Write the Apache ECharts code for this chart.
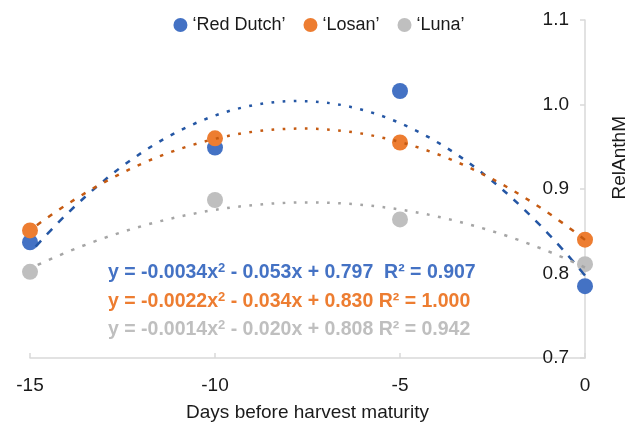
<!DOCTYPE html>
<html>
<head>
<meta charset="utf-8">
<script src="https://cdn.jsdelivr.net/npm/echarts/dist/echarts.min.js"></script>
<style>
html,body{margin:0;padding:0;background:#fff;}
#chart{width:638px;height:423px;}
</style>
</head>
<body>
<div id="chart"></div>
<script>
// ---- data ----
var days = [-15, -10, -5, 0];
var xTickLabels = ['-15', '-10', '-5', '0'];
var yTickLabels = ['0.7', '0.8', '0.9', '1.0', '1.1'];
var seriesNames = ['\u2018Red Dutch\u2019', '\u2018Losan\u2019', '\u2018Luna\u2019'];
var redDutch = [0.837, 0.949, 1.016, 0.785];
var losan    = [0.851, 0.960, 0.955, 0.840];
var luna     = [0.802, 0.887, 0.864, 0.811];
// equation labels shown on the chart: [before superscript, after superscript]
var eqRedDutch = ['y = -0.0034x', ' - 0.053x + 0.797  R\u00b2 = 0.907'];
var eqLosan    = ['y = -0.0022x', ' - 0.034x + 0.830 R\u00b2 = 1.000'];
var eqLuna     = ['y = -0.0014x', ' - 0.020x + 0.808 R\u00b2 = 0.942'];

// ---- styling ----
var markerColors = ['#4472C4', '#ED7D31', '#BFBFBF'];
var trendColors = ['#2456A4', '#C55A11', '#A5A5A5'];
var FONT = '"Liberation Sans", Arial, sans-serif';
var TXT = '#1a1a1a';

// least-squares quadratic trend fitted from the data (as the spreadsheet trendline does)
function polyfit2(xs, ys) {
  var n = xs.length, s = [0,0,0,0,0], t = [0,0,0];
  for (var i = 0; i < n; i++) {
    var x = xs[i], p = 1;
    for (var k = 0; k < 5; k++) { s[k] += p; if (k < 3) t[k] += p * ys[i]; p *= x; }
  }
  var M = [[s[0], s[1], s[2], t[0]], [s[1], s[2], s[3], t[1]], [s[2], s[3], s[4], t[2]]];
  for (var c = 0; c < 3; c++) {
    var piv = c;
    for (var r = c + 1; r < 3; r++) if (Math.abs(M[r][c]) > Math.abs(M[piv][c])) piv = r;
    var tmp = M[c]; M[c] = M[piv]; M[piv] = tmp;
    for (var r2 = 0; r2 < 3; r2++) {
      if (r2 === c) continue;
      var f = M[r2][c] / M[c][c];
      for (var k2 = c; k2 < 4; k2++) M[r2][k2] -= f * M[c][k2];
    }
  }
  return [M[0][3] / M[0][0], M[1][3] / M[1][1], M[2][3] / M[2][2]]; // c0, c1, c2
}
function trendSegments(ys) {
  var co = polyfit2(days, ys);
  var x0 = days[0], x1 = days[days.length - 1], nSeg = 50, segs = [];
  function f(x) { return co[0] + co[1] * x + co[2] * x * x; }
  for (var i = 0; i < nSeg; i++) {
    var a = x0 + (x1 - x0) * i / nSeg, b = x0 + (x1 - x0) * (i + 1) / nSeg;
    segs.push([a, f(a), b, f(b)]);
  }
  return segs;
}

function scatterSeries(name, ys, color) {
  return {
    name: name, type: 'scatter', symbol: 'circle', symbolSize: 16,
    itemStyle: { color: color, opacity: 1 },
    data: days.map(function (d, i) { return [d, ys[i]]; }),
    z: 2
  };
}
function trendSeries(ys, color) {
  return {
    type: 'custom', silent: true, z: 3,
    encode: { x: [0, 2], y: [1, 3] },
    data: trendSegments(ys),
    renderItem: function (params, api) {
      var p0 = api.coord([api.value(0), api.value(1)]);
      var p1 = api.coord([api.value(2), api.value(3)]);
      return {
        type: 'line',
        shape: { x1: p0[0], y1: p0[1], x2: p1[0], y2: p1[1] },
        style: { stroke: color, lineWidth: 2.5, lineDash: [30, 8.5], lineDashOffset: 30, fill: null }
      };
    }
  };
}
function eqGraphic(parts, color, top) {
  return {
    type: 'text', left: 108, top: top, z: 10,
    style: {
      text: '{m|' + parts[0] + '}{s|2}{m|' + parts[1] + '}',
      rich: {
        m: { fontFamily: FONT, fontSize: 19.5, fontWeight: 'bold', fill: color, color: color, lineHeight: 21 },
        s: { fontFamily: FONT, fontSize: 13, fontWeight: 'bold', fill: color, color: color, lineHeight: 14, verticalAlign: 'top' }
      }
    }
  };
}

var chart = echarts.init(document.getElementById('chart'), null, { renderer: 'canvas' });
chart.setOption({
  animation: false,
  backgroundColor: '#ffffff',
  textStyle: { fontFamily: FONT },
  grid: { left: 30, right: 53, top: 20, bottom: 65, containLabel: false, outerBoundsMode: 'none' },
  legend: {
    data: seriesNames, top: 11, left: 'center', icon: 'circle',
    itemWidth: 14, itemHeight: 14, itemGap: 18,
    textStyle: { fontFamily: FONT, fontSize: 18, color: TXT }
  },
  xAxis: {
    type: 'value', min: -15, max: 0, interval: 5,
    name: 'Days before harvest maturity', nameLocation: 'middle', nameGap: 45,
    nameTextStyle: { fontFamily: FONT, fontSize: 19, color: TXT },
    axisLine: { show: true, lineStyle: { color: '#D9D9D9', width: 1.5 } },
    axisTick: { show: true, inside: true, length: 5, lineStyle: { color: '#D9D9D9', width: 1.5 } },
    axisLabel: { margin: 18, fontFamily: FONT, fontSize: 19, color: TXT,
      formatter: function (v) { return xTickLabels[days.indexOf(v)] || String(v); } },
    splitLine: { show: false }
  },
  yAxis: {
    type: 'value', position: 'right', min: 0.7, max: 1.1, interval: 0.1,
    axisLine: { show: true, lineStyle: { color: '#D9D9D9', width: 1.5 } },
    axisTick: { show: true, inside: true, length: 5, lineStyle: { color: '#D9D9D9', width: 1.5 } },
    axisLabel: { inside: true, margin: 16, fontFamily: FONT, fontSize: 19, color: TXT,
      formatter: function (v) { return yTickLabels[Math.round((v - 0.7) * 10)] || v.toFixed(1); } },
    splitLine: { show: false }
  },
  graphic: [
    { type: 'text', left: 610, top: 116, rotation: Math.PI / 2,
      style: { text: 'RelAnthM', fontFamily: FONT, fontSize: 19, fill: TXT } },
    eqGraphic(eqRedDutch, markerColors[0], 262),
    eqGraphic(eqLosan, markerColors[1], 291),
    eqGraphic(eqLuna, markerColors[2], 319)
  ],
  series: [
    scatterSeries(seriesNames[0], redDutch, markerColors[0]),
    scatterSeries(seriesNames[1], losan, markerColors[1]),
    scatterSeries(seriesNames[2], luna, markerColors[2]),
    trendSeries(redDutch, trendColors[0]),
    trendSeries(losan, trendColors[1]),
    trendSeries(luna, trendColors[2])
  ]
});
</script>
</body>
</html>
